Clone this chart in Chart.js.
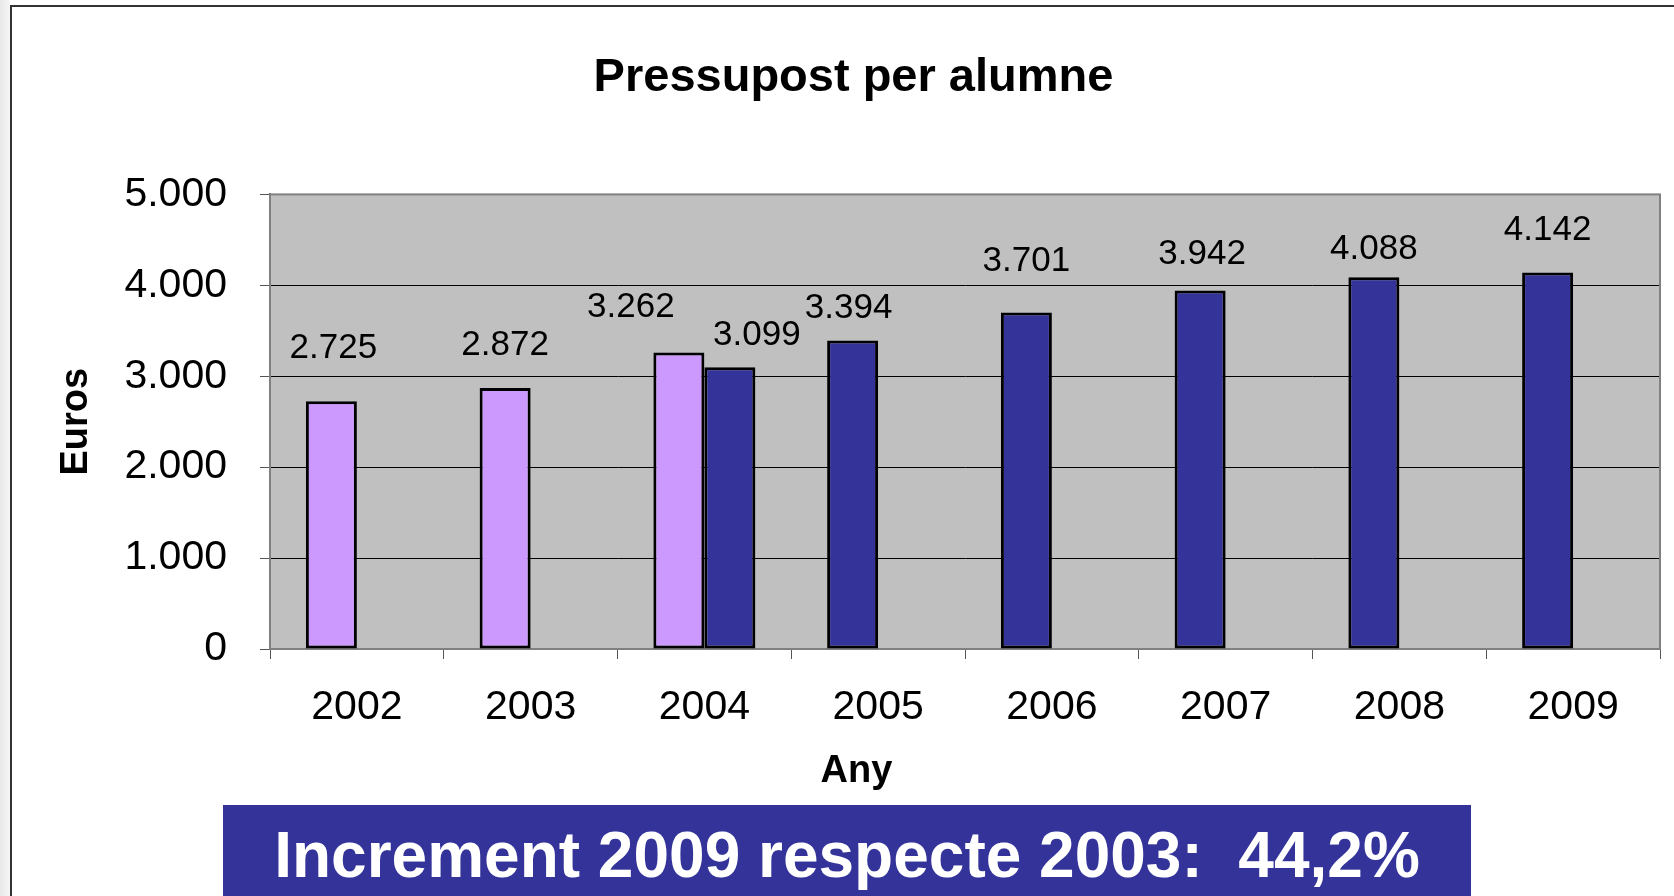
<!DOCTYPE html>
<html>
<head>
<meta charset="utf-8">
<script src="https://cdn.jsdelivr.net/npm/chart.js@4"></script>
<style>
    html, body { margin: 0; padding: 0; }
    body {
        width: 1674px; height: 896px; overflow: hidden; position: relative;
        background: linear-gradient(to right, #e8e8e8 0px, #f6f6f6 10px, #ffffff 10px);
        font-family: Arial, "Liberation Sans", sans-serif;
    }
    #frame {
        position: absolute; left: 10px; top: 5px; right: 0; bottom: 0;
        border-left: 2px solid #333; border-top: 2px solid #333;
        background: #fff;
    }
    #wrap { position: absolute; left: 0; top: 0; width: 1674px; height: 896px; }
    #banner {
        position: absolute; left: 223px; top: 805px; width: 1248px; height: 91px;
        background: #333399; color: #fff; font-weight: bold; font-size: 64px;
        display: flex; align-items: center; justify-content: center;
        box-sizing: border-box; padding-top: 8px; white-space: pre;
    }
</style>
</head>
<body>
<div id="frame"></div>
<div id="wrap"><canvas id="chart"></canvas></div>
<div id="banner">Increment 2009 respecte 2003:  44,2%</div>

<script>
    // --- dades ---
    const years = ['2002', '2003', '2004', '2005', '2006', '2007', '2008', '2009'];
    // sèrie principal (columna esquerra de cada any)
    const pressupost = [2725, 2872, 3262, 3394, 3701, 3942, 4088, 4142];
    // valor revisat de 2004 (columna dreta)
    const pressupost2004 = [null, null, 3099, null, null, null, null, null];
    const yTicks = [0, 1000, 2000, 3000, 4000, 5000];

    const PURPLE = '#cc99ff';
    const BLUE = '#333399';
    const nPurple = 3; // 2002-2004 en lila

    // desplaçament manual de les etiquetes (com a l'Excel original), en px
    const labelNudge = [
        { dx: [2, 0, -48, -4, 0, 2, 0, 0], dy: [53, 43, 45, 32, 51, 36, 28, 42] },
        { dx: [0, 0, 27, 0, 0, 0, 0, 0], dy: [0, 0, 32, 0, 0, 0, 0, 0] }
    ];

    const FONT = 'Arial, "Liberation Sans", sans-serif';

    const fmt = v => String(v).replace(/\B(?=(\d{3})+(?!\d))/g, '.');

    // fons gris de l'àrea de dibuix + vora
    const plotArea = {
        id: 'plotArea',
        beforeDraw(chart) {
            const { ctx, chartArea: a } = chart;
            ctx.save();
            ctx.fillStyle = '#c0c0c0';
            ctx.fillRect(a.left, a.top, a.right - a.left, a.bottom - a.top);
            ctx.restore();
        },
        beforeDatasetsDraw(chart) {
            const { ctx, chartArea: a } = chart;
            ctx.save();
            ctx.strokeStyle = '#808080';
            ctx.lineWidth = 2;
            ctx.strokeRect(a.left, a.top, a.right - a.left, a.bottom - a.top);
            ctx.restore();
        },
        // títol de l'eix X, centrat amb el títol del gràfic (no amb l'àrea)
        afterDraw(chart) {
            const { ctx, titleBlock: t, scales: { x } } = chart;
            ctx.save();
            ctx.font = 'bold 38px ' + FONT;
            ctx.fillStyle = '#000';
            ctx.textAlign = 'center';
            ctx.textBaseline = 'middle';
            ctx.fillText('Any', (t.left + t.right) / 2 + 3, x.bottom - 124);
            ctx.restore();
        }
    };

    // etiquetes de valor damunt les barres
    const valueLabels = {
        id: 'valueLabels',
        afterDatasetsDraw(chart) {
            const { ctx } = chart;
            ctx.save();
            ctx.font = '35px ' + FONT;
            ctx.fillStyle = '#000';
            ctx.textAlign = 'center';
            ctx.textBaseline = 'middle';
            chart.data.datasets.forEach((ds, i) => {
                const meta = chart.getDatasetMeta(i);
                meta.data.forEach((bar, j) => {
                    const v = ds.data[j];
                    if (v == null) return;
                    const n = labelNudge[i];
                    ctx.fillText(fmt(v), bar.x + (n.dx[j] || 0), bar.y - (n.dy[j] || 40));
                });
            });
            ctx.restore();
        }
    };

    new Chart(document.getElementById('chart'), {
        type: 'bar',
        data: {
            labels: years,
            datasets: [
                {
                    label: 'Pressupost',
                    data: pressupost,
                    backgroundColor: pressupost.map((v, i) => i < nPurple ? PURPLE : BLUE),
                    borderColor: '#000',
                    borderWidth: 3,
                    borderSkipped: false
                },
                {
                    label: 'Pressupost 2004 (revisat)',
                    data: pressupost2004,
                    backgroundColor: BLUE,
                    borderColor: '#000',
                    borderWidth: 3,
                    borderSkipped: false
                }
            ]
        },
        options: {
            responsive: true,
            maintainAspectRatio: false,
            animation: false,
            layout: { padding: { left: 47, right: 14, top: 0, bottom: 0 } },
            datasets: { bar: { categoryPercentage: 0.587, barPercentage: 1 } },
            plugins: {
                legend: { display: false },
                tooltip: { enabled: false },
                title: {
                    display: true,
                    text: 'Pressupost per alumne',
                    color: '#000',
                    font: { family: FONT, size: 47, weight: 'bold', lineHeight: 1.2 },
                    padding: { top: 50, bottom: 88 }
                }
            },
            scales: {
                x: {
                    afterFit(scale) { scale.height = 247; },
                    grid: {
                        display: true,
                        drawOnChartArea: false,
                        drawTicks: true,
                        tickLength: 10,
                        tickColor: '#555',
                        offset: true
                    },
                    border: { color: '#555', width: 2 },
                    ticks: {
                        color: '#000',
                        padding: 24,
                        font: { family: FONT, size: 41 }
                    },
                    title: { display: false }
                },
                y: {
                    min: 0,
                    max: 5000,
                    afterFit(scale) { scale.width = 223; },
                    afterBuildTicks(scale) { scale.ticks = yTicks.map(v => ({ value: v })); },
                    grid: {
                        color: '#000',
                        lineWidth: 1,
                        tickLength: 10,
                        tickColor: '#555'
                    },
                    border: { color: '#555', width: 2 },
                    ticks: {
                        color: '#000',
                        padding: 33,
                        font: { family: FONT, size: 41 },
                        callback: v => fmt(v)
                    },
                    title: {
                        display: true,
                        text: 'Euros',
                        color: '#000',
                        font: { family: FONT, size: 38, weight: 'bold', lineHeight: 1.2 },
                        padding: { top: 7, bottom: 0 }
                    }
                }
            }
        },
        plugins: [plotArea, valueLabels]
    });
</script>
</body>
</html>
